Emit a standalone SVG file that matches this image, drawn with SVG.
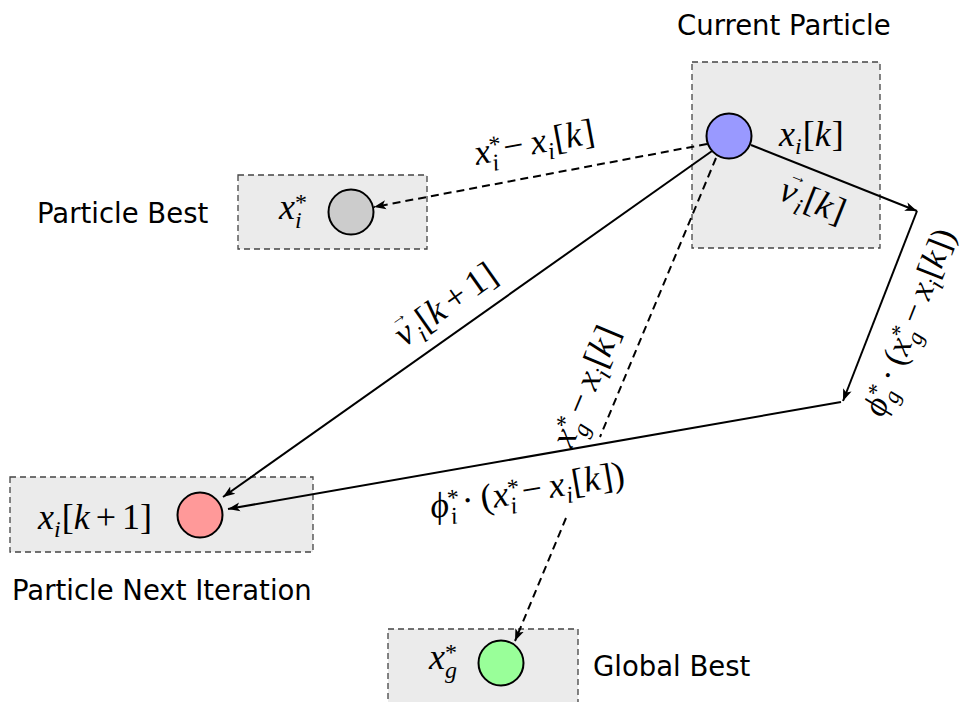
<svg xmlns="http://www.w3.org/2000/svg" width="963" height="702" viewBox="0 0 963 702">
<style>
.box{fill:#ebebeb;stroke:#444;stroke-width:1.3;stroke-dasharray:6 4}
.node{stroke:#000;stroke-width:2}
.lbl{font-family:"DejaVu Sans",sans-serif;font-size:27.5px;fill:#000}
.m{font-family:"Liberation Serif",serif;font-size:36px;fill:#000}
.it{font-style:italic}
.s{font-size:24px}
.ar{font-size:18px}
.c{fill:none;stroke:#000;stroke-width:2}
.d{stroke-dasharray:8 5}
</style>
<defs>
<marker id="ah" markerUnits="userSpaceOnUse" markerWidth="14" markerHeight="12" viewBox="0 -6 14 12" refX="12" refY="0" orient="auto">
<path d="M0,-4.5 L12,0 L0,4.5 L3,0 z" fill="#000"/>
</marker>
</defs>
<rect width="963" height="702" fill="#fff"/>

<g id="current">
<rect class="box" x="692" y="62" width="188" height="186"/>
<circle class="node" cx="729" cy="136" r="22.5" fill="#9999ff"/>
<text class="lbl" x="677" y="35">Current Particle</text>
<text class="m" x="779" y="146"><tspan class="it">x</tspan><tspan class="s it" dy="8">i</tspan><tspan dx="1" dy="-8">[</tspan><tspan class="it">k</tspan><tspan dx="1">]</tspan></text>
</g>

<g id="pbest">
<rect class="box" x="238" y="175" width="189" height="74"/>
<circle class="node" cx="351" cy="212" r="22.5" fill="#cccccc"/>
<text class="lbl" x="37" y="223">Particle Best</text>
<text class="m" x="279" y="219"><tspan class="it">x</tspan><tspan class="s" dy="-9">*</tspan><tspan class="s it" dx="-12" dy="18">i</tspan></text>
</g>

<g id="next">
<rect class="box" x="10" y="477" width="303" height="75"/>
<circle class="node" cx="200" cy="515" r="22.5" fill="#ff9999"/>
<text class="lbl" x="12" y="600">Particle Next Iteration</text>
<text class="m" x="38" y="529"><tspan class="it">x</tspan><tspan class="s it" dy="8">i</tspan><tspan dx="1" dy="-8">[</tspan><tspan class="it">k</tspan><tspan dx="6">+</tspan><tspan dx="6">1]</tspan></text>
</g>

<g id="gbest">
<rect class="box" x="388" y="629" width="190" height="90"/>
<circle class="node" cx="501" cy="663" r="22.5" fill="#99ff99"/>
<text class="lbl" x="593" y="676">Global Best</text>
<text class="m" x="429" y="669"><tspan class="it">x</tspan><tspan class="s" dy="-9">*</tspan><tspan class="s it" dx="-12" dy="18">g</tspan></text>
</g>

<g id="connectors">
<path class="c d" d="M707,144 L374,207" marker-end="url(#ah)"/>
<path class="c" d="M751,145 L917,211" marker-end="url(#ah)"/>
<path class="c" d="M917,211 L843,401" marker-end="url(#ah)"/>
<path class="c" d="M841,402 L228,509" marker-end="url(#ah)"/>
<path class="c" d="M712,151 L223,497" marker-end="url(#ah)"/>
<path class="c d" d="M716,158 L600,437 M566,518 L515,641" marker-end="url(#ah)"/>
</g>

<g id="labels">
<text class="m" text-anchor="middle" transform="translate(534,142) rotate(-10.6)" y="12"><tspan class="it">x</tspan><tspan class="s" dy="-9">*</tspan><tspan class="s it" dx="-12" dy="18">i</tspan><tspan dx="7" dy="-9">−</tspan><tspan class="it" dx="7">x</tspan><tspan class="s it" dy="8">i</tspan><tspan dx="1" dy="-8">[</tspan><tspan class="it">k</tspan><tspan dx="1">]</tspan></text>

<text class="m" text-anchor="middle" transform="translate(813,200) rotate(21.7)" y="12"><tspan class="it">v</tspan><tspan class="ar" dx="-13" dy="-23">→</tspan><tspan class="s it" dx="-2" dy="31">i</tspan><tspan dx="1" dy="-8">[</tspan><tspan class="it">k</tspan><tspan dx="1">]</tspan></text>

<text class="m" style="font-size:34px" text-anchor="middle" transform="translate(909,322) rotate(-68.5)" y="11"><tspan class="it">ϕ</tspan><tspan class="s" style="font-size:23px" dy="-9">*</tspan><tspan class="s it" style="font-size:23px" dx="-11.5" dy="17">g</tspan><tspan dx="7" dy="-8">·</tspan><tspan dx="7">(</tspan><tspan class="it">x</tspan><tspan class="s" style="font-size:23px" dy="-9">*</tspan><tspan class="s it" style="font-size:23px" dx="-11.5" dy="17">g</tspan><tspan dx="7" dy="-8">−</tspan><tspan class="it" dx="7">x</tspan><tspan class="s it" style="font-size:23px" dy="8">i</tspan><tspan dx="1" dy="-8">[</tspan><tspan class="it">k</tspan><tspan dx="1">])</tspan></text>

<text class="m" text-anchor="middle" transform="translate(445,304) rotate(-35.2)" y="12"><tspan class="it">v</tspan><tspan class="ar" dx="-13" dy="-23">→</tspan><tspan class="s it" dx="-2" dy="31">i</tspan><tspan dx="1" dy="-8">[</tspan><tspan class="it">k</tspan><tspan dx="6">+</tspan><tspan dx="6">1]</tspan></text>

<text class="m" text-anchor="middle" transform="translate(585,386) rotate(-67.4)" y="12"><tspan class="it">x</tspan><tspan class="s" dy="-9">*</tspan><tspan class="s it" dx="-12" dy="18">g</tspan><tspan dx="7" dy="-9">−</tspan><tspan class="it" dx="7">x</tspan><tspan class="s it" dy="8">i</tspan><tspan dx="1" dy="-8">[</tspan><tspan class="it">k</tspan><tspan dx="1">]</tspan></text>

<text class="m" text-anchor="middle" transform="translate(527,490) rotate(-9.8)" y="12"><tspan class="it">ϕ</tspan><tspan class="s" dy="-9">*</tspan><tspan class="s it" dx="-12" dy="18">i</tspan><tspan dx="7" dy="-9">·</tspan><tspan dx="7">(</tspan><tspan class="it">x</tspan><tspan class="s" dy="-9">*</tspan><tspan class="s it" dx="-12" dy="18">i</tspan><tspan dx="7" dy="-9">−</tspan><tspan class="it" dx="7">x</tspan><tspan class="s it" dy="8">i</tspan><tspan dx="1" dy="-8">[</tspan><tspan class="it">k</tspan><tspan dx="1">])</tspan></text>
</g>
</svg>
